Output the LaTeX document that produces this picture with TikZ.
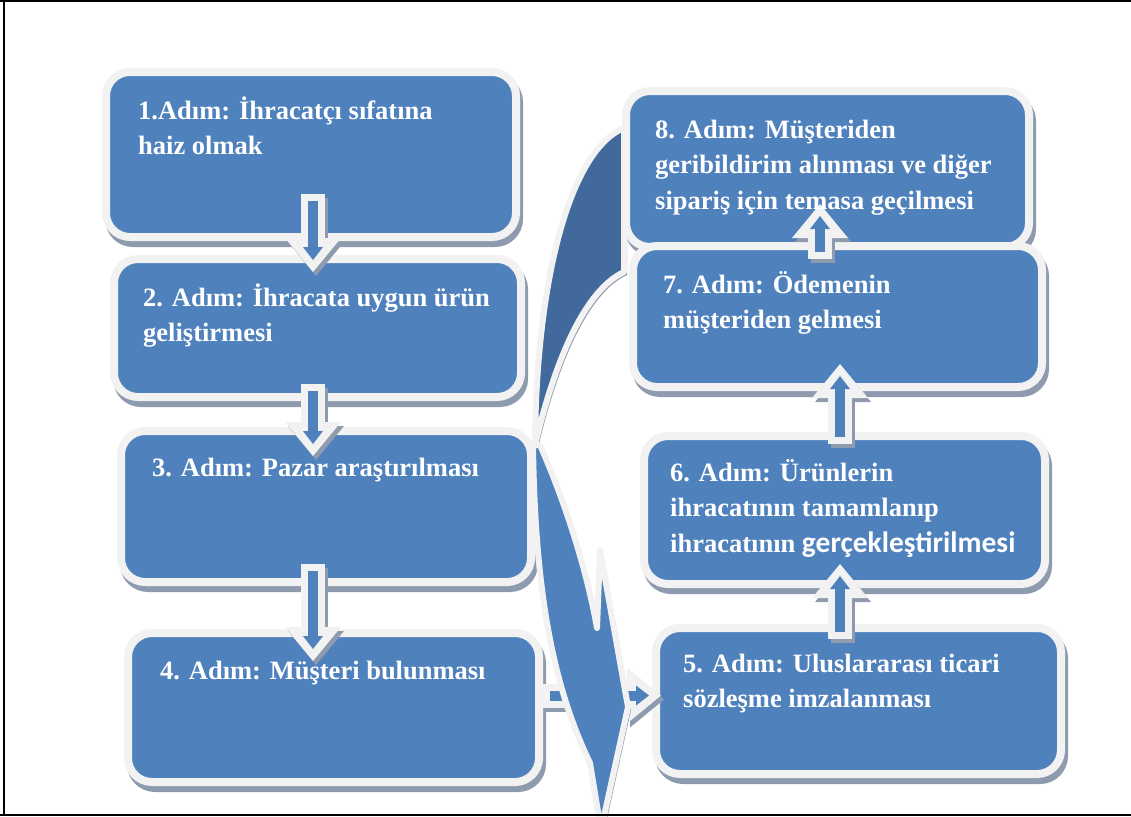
\documentclass[tikz,border=0pt]{standalone}
\usepackage{fontspec}
\setmainfont{Liberation Serif}
\newfontfamily\calibrifont{Carlito}
\usetikzlibrary{arrows.meta,shadows}
\definecolor{boxblue}{HTML}{4F81BD}
\definecolor{backblue}{HTML}{41699B}
\definecolor{edgewhite}{HTML}{F2F2F2}
\definecolor{shadowgray}{HTML}{8E9BAF}

\begin{document}
\begin{tikzpicture}[x=1pt, y=-1pt,
  stepbox/.style={draw=edgewhite, line width=8pt, fill=boxblue, rounded corners=24pt, inner sep=0pt,
    drop shadow={shadow xshift=3pt, shadow yshift=-6pt, fill=shadowgray, draw=shadowgray, line width=8pt, opacity=1}},
  steptext/.style={anchor=base west, inner sep=0pt, align=left, text=white,
    font=\bfseries\fontsize{26.5}{35.5}\selectfont},
  steparrow/.style={draw=edgewhite, line width=24pt, -{Triangle[length=34pt, width=56pt, line width=0pt]},
    preaction={draw=shadowgray, line width=24pt, -{Triangle[length=34pt, width=56pt, line width=0pt]},
      transform canvas={shift={(3pt,-4pt)}}},
    postaction={draw=boxblue, line width=10pt, -{Triangle[length=13pt, width=20pt, line width=0pt]},
      shorten <=7pt, shorten >=12pt}},
  curvepart/.style={draw=edgewhite, line width=6pt, line join=round,
    preaction={fill=shadowgray, transform canvas={shift={(3pt,-3pt)}}}},
  ]
  \clip (0,0) rectangle (1131,816);
  \useasboundingbox (0,0) rectangle (1131,816);

  % back of the big curved arrow
  \draw[curvepart, fill=backblue] (624,128) .. controls (570,150) and (536,280) .. (535,445)
    .. controls (555,360) and (585,290) .. (624,272) -- cycle;

  % left column
  \node[stepbox, minimum width=410pt, minimum height=165pt] (b1) at (311,154.5) {};
  \node[stepbox, minimum width=407pt, minimum height=138pt] (b2) at (317.5,328) {};
  \node[stepbox, minimum width=410pt, minimum height=151pt] (b3) at (326,506.5) {};
  \node[stepbox, minimum width=411pt, minimum height=149pt] (b4) at (333.5,707.5) {};

  % right column
  \node[stepbox, minimum width=403pt, minimum height=156pt] (b8) at (827.5,169) {};
  \node[stepbox, minimum width=409pt, minimum height=141pt] (b7) at (837.5,316.5) {};
  \node[stepbox, minimum width=401pt, minimum height=148pt] (b6) at (844.5,510) {};
  \node[stepbox, minimum width=405pt, minimum height=146pt] (b5) at (858.5,701) {};

  % arrows between the steps
  \draw[steparrow] ([xshift=2pt,yshift=47pt]b1.south) -- ++(0,78);
  \draw[steparrow] ([xshift=-4.5pt,yshift=17pt]b2.south) -- ++(0,72);
  \draw[steparrow] ([xshift=-13pt,yshift=22pt]b3.south) -- ++(0,97);
  \draw[steparrow] ([xshift=-18.5pt,yshift=-15pt]b5.north) -- ++(0,-75);
  \draw[steparrow] ([xshift=-4.5pt,yshift=-12pt]b6.north) -- ++(0,-80);
  \draw[steparrow] ([xshift=-17.5pt,yshift=-17pt]b7.north) -- ++(0,-55);
  \draw[steparrow] ([yshift=12pt]b4.east) -- ++(118,0);

  % front of the big curved arrow
  \draw[curvepart, fill=boxblue] (533,445) .. controls (535,600) and (555,690) .. (590,763)
    -- (601,830) -- (628,707) -- (600,550) -- (597,628)
    .. controls (585,560) and (560,490) .. (540,445) -- cycle;

  % texts (base = last line)
  \node[steptext] (t1) at (138,154.5) {1.Adım: İhracatçı sıfatına\\haiz olmak};
  \node[steptext] (t2) at (143,341.5) {2. Adım: İhracata uygun ürün\\geliştirmesi};
  \node[steptext] (t3) at (152,476) {3. Adım: Pazar araştırılması};
  \node[steptext] (t4) at (160,679) {4. Adım: Müşteri bulunması};
  \node[steptext] (t5) at (683,707.5) {5. Adım: Uluslararası ticari\\sözleşme imzalanması};
  \node[steptext] (t6) at (670,552) {6. Adım: Ürünlerin\\ihracatının tamamlanıp\\ihracatının {\calibrifont\fontsize{29.5}{35.5}\selectfont gerçekleştirilmesi}};
  \node[steptext] (t7) at (663,328.5) {7. Adım: Ödemenin\\müşteriden gelmesi};
  \node[steptext] (t8) at (655,209) {8. Adım: Müşteriden\\geribildirim alınması ve diğer\\sipariş için temasa geçilmesi};

  % frame
  \draw[line width=2pt] (0,1) -- (1131,1) (4,0) -- (4,816) (0,815) -- (1131,815);
\end{tikzpicture}
\end{document}
